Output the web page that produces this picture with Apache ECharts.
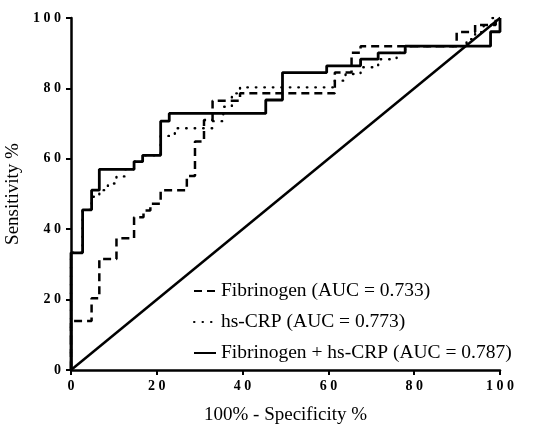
<!DOCTYPE html>
<html>
<head>
<meta charset="utf-8">
<script src="https://cdn.jsdelivr.net/npm/echarts@6/dist/echarts.min.js"></script>
<style>
  html, body { margin: 0; padding: 0; background: #fff; }
  #main { width: 541px; height: 425px; }
</style>
</head>
<body>
<div id="main"></div>
<script>
// ROC curves (x = 100% - specificity, y = sensitivity)
var fibX = [0, 0, 4.8, 4.8, 6.6, 6.6, 10.6, 10.6, 14.7, 14.7, 16.9, 16.9, 18.5, 18.5, 20.9, 20.9, 27, 27, 28.9, 28.9, 31, 31, 33, 33, 39.4, 39.4, 61.5, 61.5, 65.4, 65.4, 67.5, 67.5, 89.9, 89.9, 94.2, 94.2, 99, 99, 100];
var fibY = [0, 13.9, 13.9, 20.4, 20.4, 31.5, 31.5, 37.4, 37.4, 43.4, 43.4, 45.3, 45.3, 47.2, 47.2, 51.1, 51.1, 55.1, 55.1, 64.9, 64.9, 71, 71, 76.5, 76.5, 78.6, 78.6, 84.5, 84.5, 90.1, 90.1, 92, 92, 96, 96, 98, 98, 100, 100];

var crpX = [0, 0, 2.7, 2.7, 4.8, 4.8, 6.6, 6.6, 8.6, 8.6, 10.6, 10.6, 12.6, 12.6, 14.7, 14.7, 16.7, 16.7, 20.9, 20.9, 24.2, 24.2, 33, 33, 35.5, 35.5, 37.5, 37.5, 39.4, 39.4, 61.5, 61.5, 64, 64, 67.5, 67.5, 71.6, 71.6, 75.9, 75.9, 77.9, 77.9, 92.2, 92.2, 94.2, 94.2, 96.2, 96.2, 98, 98, 100];
var crpY = [0, 33.3, 33.3, 45.5, 45.5, 49.2, 49.2, 51.1, 51.1, 53, 53, 55, 55, 57, 57, 59.2, 59.2, 61, 61, 66.5, 66.5, 68.7, 68.7, 70.7, 70.7, 74.8, 74.8, 78.6, 78.6, 80.3, 80.3, 82.2, 82.2, 84.1, 84.1, 86, 86, 88.3, 88.3, 90.1, 90.1, 92, 92, 94, 94, 96, 96, 98, 98, 100, 100];

var comboX = [0, 0, 2.7, 2.7, 4.8, 4.8, 6.6, 6.6, 14.7, 14.7, 16.7, 16.7, 20.9, 20.9, 22.9, 22.9, 45.4, 45.4, 49.3, 49.3, 59.6, 59.6, 67.5, 67.5, 71.6, 71.6, 77.9, 77.9, 97.8, 97.8, 100, 100];
var comboY = [0, 33.3, 33.3, 45.5, 45.5, 51.1, 51.1, 57, 57, 59.2, 59.2, 61, 61, 70.7, 70.7, 72.9, 72.9, 76.7, 76.7, 84.5, 84.5, 86.4, 86.4, 88.3, 88.3, 90.1, 90.1, 92, 92, 96.1, 96.1, 100];

var refX = [0, 100];
var refY = [0, 100];

var names = ['Fibrinogen (AUC = 0.733)', 'hs-CRP (AUC = 0.773)', 'Fibrinogen + hs-CRP (AUC = 0.787)'];

function pairs(xs, ys) {
    var d = [];
    for (var i = 0; i < xs.length; i++) {
        d.push([xs[i], ys[i]]);
    }
    return d;
}

// spaced digits like the original tick labels
function spaced(v) {
    return String(v).split('').join(' ');
}

var serif = 'Liberation Serif';

var chart = echarts.init(document.getElementById('main'));

var option = {
    animation: false,
    grid: { left: 71, right: 41, top: 18, bottom: 55, containLabel: false, outerBoundsMode: 'none' },
    legend: {
        orient: 'vertical',
        left: 188,
        top: 276,
        itemWidth: 22,
        itemHeight: 19,
        itemGap: 11,
        data: names,
        itemStyle: { opacity: 0 },
        textStyle: { fontFamily: serif, fontSize: 19.5, color: '#000' }
    },
    xAxis: {
        type: 'value',
        min: 0,
        max: 100,
        interval: 20,
        name: '100% - Specificity %',
        nameLocation: 'middle',
        nameGap: 36,
        nameTextStyle: { fontFamily: serif, fontSize: 19, color: '#000' },
        splitLine: { show: false },
        axisLine: { lineStyle: { color: '#000', width: 2.5 } },
        axisTick: { length: 5, lineStyle: { color: '#000', width: 2 } },
        axisLabel: {
            margin: 9,
            formatter: spaced,
            fontFamily: serif, fontSize: 14, fontWeight: 'bold', color: '#000'
        }
    },
    yAxis: {
        type: 'value',
        min: 0,
        max: 100,
        interval: 20,
        name: 'Sensitivity %',
        nameLocation: 'middle',
        nameGap: 41,
        nameTextStyle: { fontFamily: serif, fontSize: 19, color: '#000' },
        splitLine: { show: false },
        axisLine: { lineStyle: { color: '#000', width: 2.5 } },
        axisTick: { length: 5, lineStyle: { color: '#000', width: 2 } },
        axisLabel: {
            margin: 10,
            formatter: spaced,
            fontFamily: serif, fontSize: 14, fontWeight: 'bold', color: '#000'
        }
    },
    series: [
        {
            name: names[0],
            type: 'line',
            symbol: 'none',
            data: pairs(fibX, fibY),
            lineStyle: { color: '#000', width: 2.5, type: [8, 5] },
            itemStyle: { color: '#000' }
        },
        {
            name: names[1],
            type: 'line',
            symbol: 'none',
            data: pairs(crpX, crpY),
            lineStyle: { color: '#000', width: 2.4, type: [0.5, 8], cap: 'round' },
            itemStyle: { color: '#000' }
        },
        {
            name: names[2],
            type: 'line',
            symbol: 'none',
            data: pairs(comboX, comboY),
            lineStyle: { color: '#000', width: 2.8, type: 'solid' },
            itemStyle: { color: '#000' }
        },
        {
            name: 'reference',
            type: 'line',
            symbol: 'none',
            data: pairs(refX, refY),
            lineStyle: { color: '#000', width: 2.5 },
            itemStyle: { color: '#000' }
        }
    ]
};

chart.setOption(option);
</script>
</body>
</html>
